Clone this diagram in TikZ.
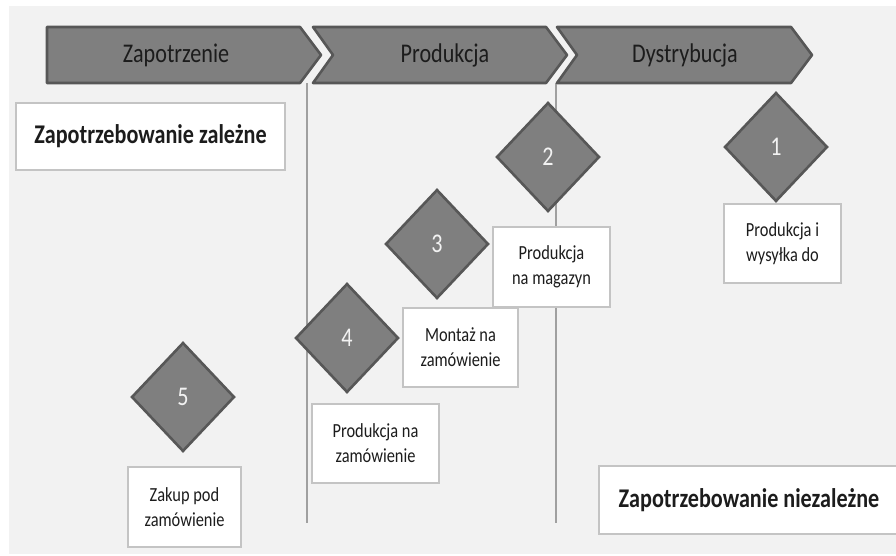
\documentclass[tikz,border=0pt]{standalone}
\usepackage{fontspec}
\setmainfont{Carlito}[FakeStretch=0.82]
\usetikzlibrary{shapes.geometric}
\definecolor{canvas}{HTML}{F2F2F2}
\definecolor{stagefill}{HTML}{7F7F7F}
\definecolor{stageedge}{HTML}{575757}
\definecolor{boxedge}{HTML}{C4C4C4}
\definecolor{divider}{HTML}{A0A0A0}
\definecolor{ink}{HTML}{1C1C1C}
\begin{document}
\begin{tikzpicture}[x=1pt,y=-1pt,
  stage/.style={fill=stagefill,draw=stageedge,line width=2.6pt,line join=round},
  stagetext/.style={text=ink,font=\fontsize{27}{30}\selectfont},
  rhombus/.style={diamond,fill=stagefill,draw=stageedge,line width=2.6pt,
    minimum width=103pt,minimum height=109pt,inner sep=0pt,
    text=canvas,font=\fontsize{27}{30}\selectfont},
  label/.style={rectangle,fill=white,draw=boxedge,line width=1.2pt,
    text=ink,align=center,inner sep=0pt,font=\fontsize{20}{25}\selectfont},
  heading/.style={rectangle,fill=white,draw=boxedge,line width=1.2pt,
    text=ink,inner sep=0pt,font=\fontsize{27}{30}\selectfont\bfseries},
  divline/.style={draw=divider,line width=1.4pt}]
\useasboundingbox (0,0) rectangle (896,555);
\fill[white] (0,0) rectangle (896,555);
\fill[canvas] (9,6) rectangle (896,554);

% stage dividers
\coordinate (d1t) at (307,83);
\coordinate (d1b) at (307,523);
\coordinate (d2t) at (556,83);
\coordinate (d2b) at (556,523);
\draw[divline] (d1t) -- (d1b);
\draw[divline] (d2t) -- (d2b);

% process stages
\draw[stage] (47,27) -- (300,27) -- (321,55) -- (300,83) -- (47,83) -- cycle;
\draw[stage] (313,27) -- (546,27) -- (567,55) -- (546,83) -- (313,83) -- (333,55) -- cycle;
\draw[stage] (557,27) -- (791,27) -- (812,55) -- (791,83) -- (557,83) -- (577,55) -- cycle;
\node[stagetext] (s1) at (176,55) {Zapotrzenie};
\node[stagetext] (s2) at (445,55) {Produkcja};
\node[stagetext] (s3) at (685,55) {Dystrybucja};

% demand labels
\node[heading,minimum width=269pt,minimum height=67pt] (dep) at (150.5,136.5) {Zapotrzebowanie zależne};
\node[heading,minimum width=300pt,minimum height=68pt] (indep) at (749,500) {Zapotrzebowanie niezależne};

% strategies
\node[rhombus] (r1) at (776,147) {1};
\node[rhombus] (r2) at (548,157) {2};
\node[rhombus] (r3) at (437,244) {3};
\node[rhombus] (r4) at (347,338) {4};
\node[rhombus] (r5) at (183,397) {5};

\node[label,minimum width=117pt,minimum height=79pt] (b1) at (782.5,243.5) {Produkcja i\\wysyłka do};
\node[label,minimum width=117pt,minimum height=80pt] (b2) at (551.5,267) {Produkcja\\na magazyn};
\node[label,minimum width=115pt,minimum height=79pt] (b3) at (460.5,347.5) {Montaż na\\zamówienie};
\node[label,minimum width=127pt,minimum height=79pt] (b4) at (375.5,443.5) {Produkcja na\\zamówienie};
\node[label,minimum width=113pt,minimum height=80pt] (b5) at (184.5,507) {Zakup pod\\zamówienie};
\end{tikzpicture}
\end{document}
